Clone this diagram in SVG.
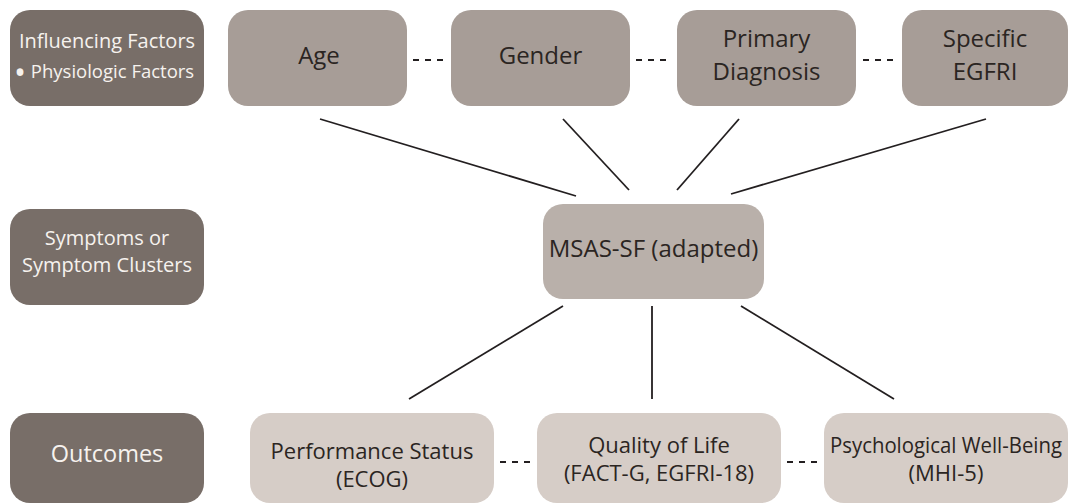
<svg xmlns="http://www.w3.org/2000/svg" width="1076" height="504" viewBox="0 0 1076 504">
<style>
  .lbl rect { fill: #786e68; }
  .lbl text { fill: #f6f2ee; font-family: "Open Sans", "Noto Sans", sans-serif; text-anchor: middle; }
  .fac rect { fill: #a79d97; }
  .sym rect { fill: #b9b0aa; }
  .out rect { fill: #d6cdc7; }
  .n text { fill: #2b2522; font-family: "Open Sans", "Noto Sans", sans-serif; text-anchor: middle; }
  .link { stroke: #231f20; stroke-width: 1.8; fill: none; }
  .dash { stroke: #231f20; stroke-width: 1.8; fill: none; stroke-dasharray: 6 6; }
</style>
<rect width="1076" height="504" fill="#ffffff"/>

<g id="label-influencing" class="lbl">
  <rect x="10" y="10" width="194" height="96" rx="20"/>
  <text x="107" y="48" font-size="20">Influencing Factors</text>
  <text x="14" y="78" font-size="18.5" style="text-anchor:start"><tspan font-size="32" dy="6">•</tspan><tspan dy="-6"> Physiologic Factors</tspan></text>
</g>
<g id="label-symptoms" class="lbl">
  <rect x="10" y="209" width="194" height="96" rx="20"/>
  <text x="107" y="245" font-size="20">Symptoms or</text>
  <text x="107" y="272" font-size="20">Symptom Clusters</text>
</g>
<g id="label-outcomes" class="lbl">
  <rect x="10" y="413" width="194" height="90" rx="20"/>
  <text x="107" y="462" font-size="23.5">Outcomes</text>
</g>

<g id="node-age" class="n fac">
  <rect x="228" y="10" width="179" height="96" rx="20"/>
  <text x="319" y="64" font-size="24">Age</text>
</g>
<g id="node-gender" class="n fac">
  <rect x="451" y="10" width="179" height="96" rx="20"/>
  <text x="540.5" y="64" font-size="24">Gender</text>
</g>
<g id="node-diagnosis" class="n fac">
  <rect x="677" y="10" width="179" height="96" rx="20"/>
  <text x="766.5" y="47" font-size="24">Primary</text>
  <text x="766.5" y="80" font-size="24">Diagnosis</text>
</g>
<g id="node-egfri" class="n fac">
  <rect x="902" y="10" width="166" height="96" rx="20"/>
  <text x="985" y="47" font-size="24">Specific</text>
  <text x="985" y="80" font-size="24">EGFRI</text>
</g>

<g id="node-msas" class="n sym">
  <rect x="543" y="204" width="221" height="95" rx="20"/>
  <text x="653.5" y="257" font-size="24">MSAS-SF (adapted)</text>
</g>

<g id="node-performance" class="n out">
  <rect x="250" y="413" width="244" height="90" rx="20"/>
  <text x="372" y="459" font-size="22">Performance Status</text>
  <text x="372" y="487" font-size="22">(ECOG)</text>
</g>
<g id="node-qol" class="n out">
  <rect x="537" y="413" width="244" height="90" rx="20"/>
  <text x="659" y="453" font-size="22">Quality of Life</text>
  <text x="659" y="481" font-size="22">(FACT-G, EGFRI-18)</text>
</g>
<g id="node-psych" class="n out">
  <rect x="824" y="413" width="244" height="90" rx="20"/>
  <text x="946" y="453" font-size="21" textLength="232" lengthAdjust="spacingAndGlyphs">Psychological Well-Being</text>
  <text x="946" y="481" font-size="22">(MHI-5)</text>
</g>

<g id="connectors">
  <line class="dash" x1="413" y1="60" x2="443" y2="60"/>
  <line class="dash" x1="636" y1="60" x2="666" y2="60"/>
  <line class="dash" x1="863" y1="60" x2="893" y2="60"/>
  <line class="dash" x1="500" y1="462" x2="530" y2="462"/>
  <line class="dash" x1="787" y1="462" x2="817" y2="462"/>
  <line class="link" x1="320" y1="119" x2="576" y2="196"/>
  <line class="link" x1="563" y1="119" x2="629" y2="190"/>
  <line class="link" x1="739" y1="119" x2="677" y2="190"/>
  <line class="link" x1="986" y1="119" x2="731" y2="194"/>
  <line class="link" x1="563" y1="306" x2="409" y2="399"/>
  <line class="link" x1="652" y1="306" x2="652" y2="399"/>
  <line class="link" x1="741" y1="306" x2="894" y2="399"/>
</g>
</svg>
